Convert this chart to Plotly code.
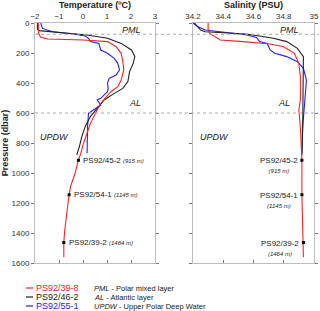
import plotly.graph_objects as go

# ---- data ----
p_red_T = [0, 69, 95, 107, 113, 124, 158, 202, 258, 313, 380, 424, 458, 513, 535, 602, 669, 735, 802, 869, 913, 1002, 1091, 1147, 1269, 1380, 1462, 1562]
T_red = [-1.86, -1.86, -1.76, -1.47, 0.02, 1.02, 1.38, 1.59, 1.66, 1.70, 1.59, 1.45, 1.16, 0.88, 0.74, 0.52, 0.31, 0.17, 0.02, -0.09, -0.19, -0.33, -0.52, -0.58, -0.69, -0.76, -0.80, -0.80]

p_blk_T = [0, 42, 51, 69, 80, 102, 136, 180, 224, 269, 324, 391, 436, 469, 513, 569, 624, 691, 758, 824, 880]
T_blk = [-1.9, -1.9, -1.83, -0.69, 0.17, 1.02, 1.59, 2.02, 2.16, 2.09, 1.94, 1.87, 1.66, 1.30, 0.88, 0.59, 0.31, 0.09, -0.05, -0.15, -0.26]

p_blu_T = [0, 36, 58, 73, 87, 102, 124, 136, 180, 202, 236, 269, 313, 347, 369, 402, 436, 458, 502, 513, 547, 580, 602, 691, 780, 869]
T_blu = [-1.76, -1.69, -1.26, -0.41, 0.09, 0.23, 0.31, 0.66, 0.74, 1.02, 1.30, 1.45, 1.52, 1.38, 1.09, 1.02, 1.05, 1.02, 0.74, 0.59, 0.74, 0.45, 0.23, 0.19, 0.17, 0.17]

p_red_S = [0, 42, 69, 91, 113, 124, 140, 158, 202, 269, 358, 513, 580, 700, 913, 1147, 1462, 1562]
S_red = [34.30, 34.30, 34.31, 34.35, 34.38, 34.53, 34.71, 34.80, 34.87, 34.90, 34.91, 34.91, 34.90, 34.91, 34.92, 34.92, 34.93, 34.93]

p_blk_S = [0, 24, 47, 58, 64, 73, 87, 102, 124, 169, 224, 291, 380, 513, 700, 880]
S_blk = [34.21, 34.23, 34.25, 34.28, 34.41, 34.55, 34.64, 34.73, 34.82, 34.89, 34.93, 34.93, 34.93, 34.93, 34.925, 34.92]

p_blu_S = [0, 24, 47, 64, 78, 96, 124, 136, 180, 202, 224, 258, 302, 380, 513, 580, 700, 869]
S_blu = [34.20, 34.23, 34.28, 34.41, 34.55, 34.62, 34.64, 34.69, 34.71, 34.74, 34.82, 34.89, 34.93, 34.95, 34.94, 34.93, 34.925, 34.92]

station_names = ["PS92/39-8", "PS92/46-2", "PS92/55-1"]
station_colors = ["#ff2020", "#202020", "#2020ff"]

ref_stations = ["PS92/45-2", "PS92/54-1", "PS92/39-2"]
ref_depths = [915, 1145, 1464]
ref_T = [-0.19, -0.58, -0.80]
ref_S = [34.92, 34.92, 34.93]

layer_abbr = ["PML", "AL", "UPDW"]
layer_names = ["Polar mixed layer", "Atlantic layer", "Upper Polar Deep Water"]
layer_bounds = [75, 600]
layer_label_p = [48, 533, 760]
layer_label_T = [2.02, 2.15, -1.19]
layer_label_S = [34.84, 34.80, 34.34]

T_ticks = [-2, -1, 0, 1, 2, 3]
S_ticks = [34.2, 34.4, 34.6, 34.8, 35.0]
S_ticktext = ["34.2", "34.4", "34.6", "34.8", "35"]
p_ticks = [0, 200, 400, 600, 800, 1000, 1200, 1400, 1600]

FONT = "Arial, Liberation Sans, sans-serif"
FRAME = "#bdbdbd"
W, H, TOP, BOT = 320, 311, 23, 263

fig = go.Figure()

temp = [(p_red_T, T_red), (p_blk_T, T_blk), (p_blu_T, T_blu)]
sal = [(p_red_S, S_red), (p_blk_S, S_blk), (p_blu_S, S_blu)]
for i in [2, 1, 0]:
    fig.add_trace(go.Scatter(x=temp[i][1], y=temp[i][0], mode="lines", xaxis="x", yaxis="y",
                             line=dict(color=station_colors[i], width=1.1), showlegend=False))
    fig.add_trace(go.Scatter(x=sal[i][1], y=sal[i][0], mode="lines", xaxis="x2", yaxis="y2",
                             line=dict(color=station_colors[i], width=1.1), showlegend=False))

# station markers
fig.add_trace(go.Scatter(x=ref_T, y=ref_depths, mode="markers", xaxis="x", yaxis="y",
                         marker=dict(symbol="square", size=3, color="black"), showlegend=False))
fig.add_trace(go.Scatter(x=ref_S, y=ref_depths, mode="markers", xaxis="x2", yaxis="y2",
                         marker=dict(symbol="square", size=3, color="black"), showlegend=False))

# dummy traces for bottom tick axes
fig.add_trace(go.Scatter(x=[0], y=[0], xaxis="x3", yaxis="y", mode="markers",
                         marker=dict(opacity=0), showlegend=False, hoverinfo="skip"))
fig.add_trace(go.Scatter(x=[34.5], y=[0], xaxis="x4", yaxis="y2", mode="markers",
                         marker=dict(opacity=0), showlegend=False, hoverinfo="skip"))

d1 = [35 / W, 155 / W]
d2 = [193 / W, 314 / W]

axis_common = dict(showgrid=False, zeroline=False, showline=True, linecolor=FRAME, linewidth=1,
                   automargin=False, tickfont=dict(size=8, family=FONT, color="#333"))

fig.update_layout(
    width=W, height=H,
    margin=dict(l=0, r=0, t=TOP, b=H - BOT, autoexpand=False),
    paper_bgcolor="white", plot_bgcolor="white",
    font=dict(family=FONT),
    xaxis=dict(domain=d1, range=[-2, 3], side="top", anchor="y", tickvals=T_ticks,
               ticks="", ticklen=0,
               title=dict(text="<b>Temperature (ºC)</b>", font=dict(size=9, family=FONT, color="#222"), standoff=1),
               **axis_common),
    xaxis3=dict(domain=d1, range=[-2, 3], side="bottom", overlaying="x", anchor="y", tickvals=T_ticks,
                ticks="inside", ticklen=3, tickcolor="#777", showticklabels=False, automargin=False,
                showgrid=False, zeroline=False, showline=True, linecolor=FRAME),
    xaxis2=dict(domain=d2, range=[34.2, 35], side="top", anchor="y2", tickvals=S_ticks, ticktext=S_ticktext,
                ticks="", ticklen=0,
                title=dict(text="<b>Salinity (PSU)</b>", font=dict(size=9, family=FONT, color="#222"), standoff=1),
                **axis_common),
    xaxis4=dict(domain=d2, range=[34.2, 35], side="bottom", overlaying="x2", anchor="y2", tickvals=S_ticks,
                ticks="inside", ticklen=3, tickcolor="#777", showticklabels=False, automargin=False,
                showgrid=False, zeroline=False, showline=True, linecolor=FRAME),
    yaxis=dict(domain=[0, 1], range=[1600, 0], anchor="x", tickvals=p_ticks, ticks="outside", ticklen=3,
               tickcolor="#777", mirror="ticks",
               title=dict(text="<b>Pressure (dbar)</b>", font=dict(size=9, family=FONT, color="#222"), standoff=2),
               **axis_common),
    yaxis2=dict(domain=[0, 1], range=[1600, 0], anchor="x2", tickvals=p_ticks, ticks="outside", ticklen=3,
                tickcolor="#777", mirror="ticks", showticklabels=False,
                **axis_common),
)

# layer boundaries (dotted)
for b in layer_bounds:
    fig.add_shape(type="line", xref="paper", yref="y", x0=d1[0], x1=0.995, y0=b, y1=b,
                  line=dict(color="#aaaaaa", width=1, dash="dot"))

# layer labels
for ab, pl, tl, sl in zip(layer_abbr, layer_label_p, layer_label_T, layer_label_S):
    fig.add_annotation(x=tl, y=pl, xref="x", yref="y", text=f"<i>{ab}</i>", showarrow=False,
                       font=dict(size=9, family=FONT, color="#222"))
    fig.add_annotation(x=sl, y=pl, xref="x2", yref="y2", text=f"<i>{ab}</i>", showarrow=False,
                       font=dict(size=9, family=FONT, color="#222"))

# station labels
for st, dp, tv, sv in zip(ref_stations, ref_depths, ref_T, ref_S):
    fig.add_annotation(x=tv, y=dp, xref="x", yref="y", xanchor="left", xshift=3,
                       text=f"{st} <span style='font-size:6px'><i>({dp} m)</i></span>",
                       showarrow=False, font=dict(size=8, family=FONT, color="#222"))
    fig.add_annotation(x=sv, y=dp, xref="x2", yref="y2", xanchor="right", yanchor="top", xshift=-2, yshift=6,
                       align="center",
                       text=f"{st}<br><span style='font-size:6px'><i>({dp} m)</i></span>",
                       showarrow=False, font=dict(size=8, family=FONT, color="#222"))

# legend (as annotations); paper y is relative to plot area
def py(px):
    return (BOT - px) / (BOT - TOP)

leg_y = [288, 297, 306]
for i, (nm, col) in enumerate(zip(station_names, station_colors)):
    yy = py(leg_y[i])
    fig.add_shape(type="line", xref="paper", yref="paper", x0=26 / W, x1=33 / W, y0=yy, y1=yy,
                  line=dict(color=col, width=1.2))
    fig.add_annotation(x=34 / W, y=yy, xref="paper", yref="paper", xanchor="left", yanchor="middle",
                       text=nm, showarrow=False, font=dict(size=9, family=FONT, color=col))
    fig.add_annotation(x=92 / W, y=yy, xref="paper", yref="paper", xanchor="left", yanchor="middle",
                       text=f"<i>{layer_abbr[i]}</i> - {layer_names[i]}", showarrow=False,
                       font=dict(size=7.5, family=FONT, color="#222"))

fig.write_html("out.html", config={"displayModeBar": False},
               post_script="document.body.style.margin='0';document.body.style.padding='0';")
